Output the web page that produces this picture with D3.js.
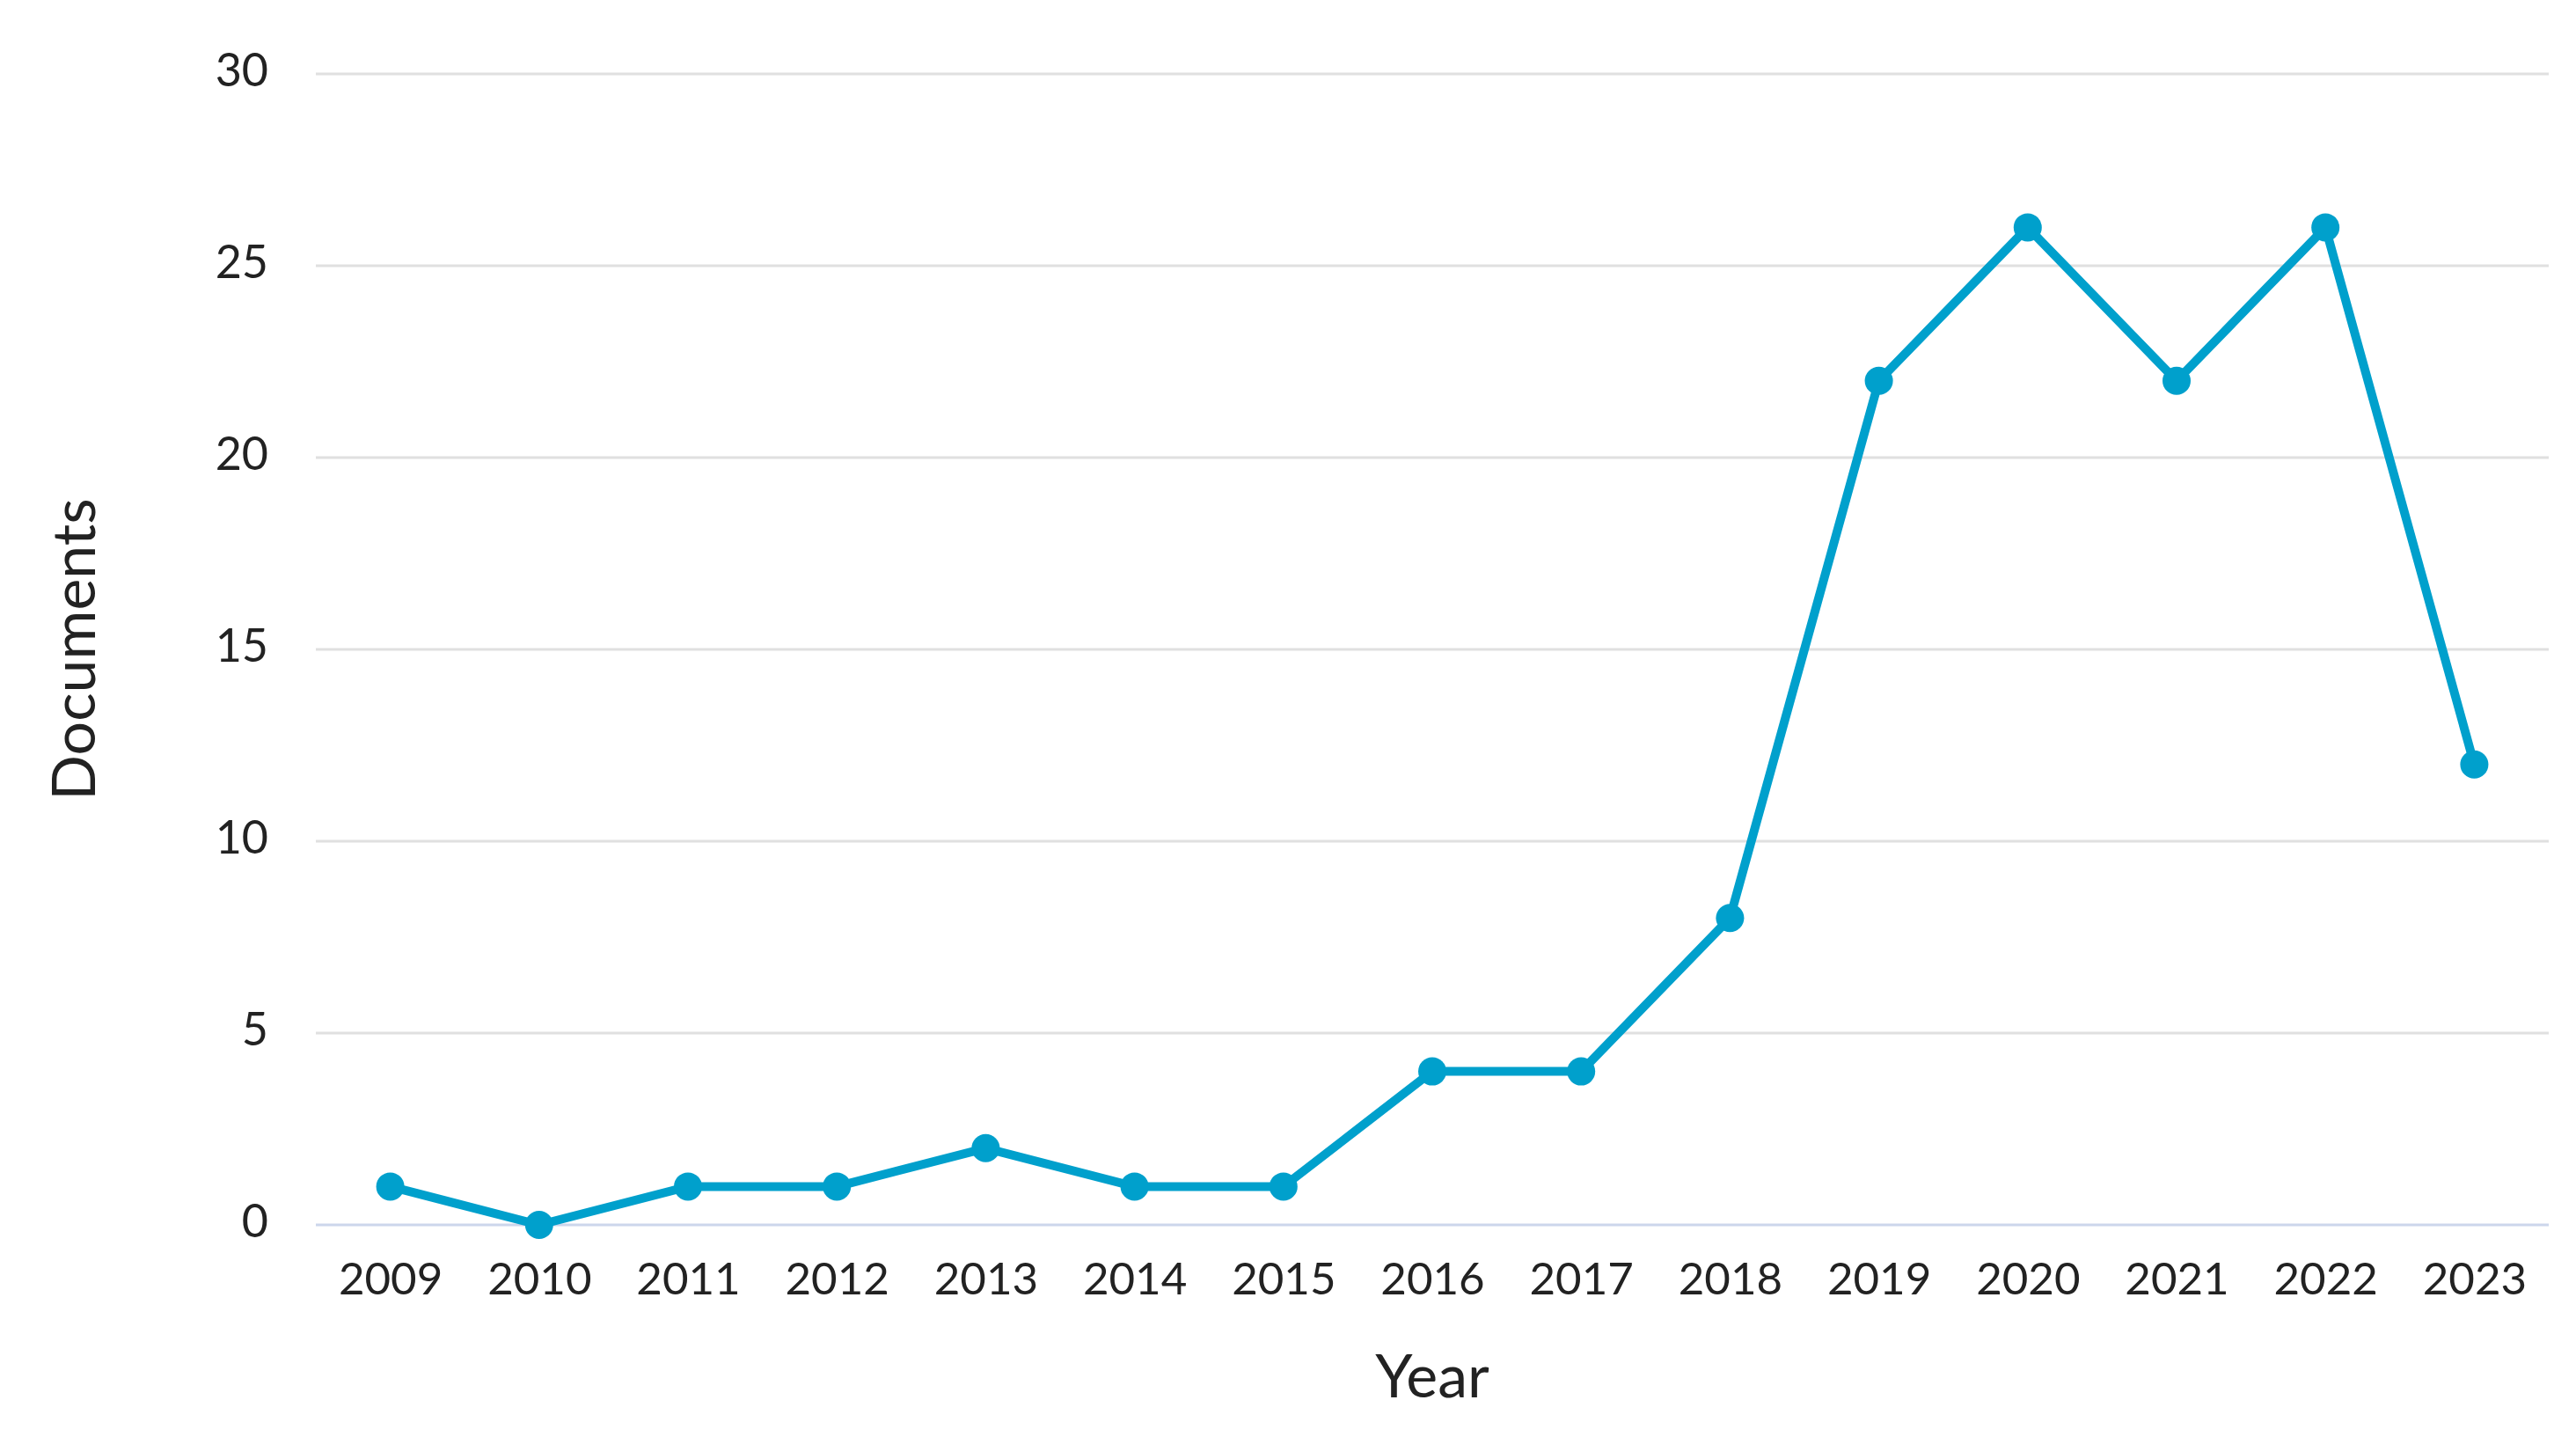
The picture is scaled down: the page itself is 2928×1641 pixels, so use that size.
<!DOCTYPE html>
<html>
<head>
<meta charset="utf-8">
<script src="https://cdn.jsdelivr.net/npm/d3@7"></script>
<style>
  html, body { margin: 0; padding: 0; background: #ffffff; }
  svg { display: block; }
</style>
</head>
<body>
<script>
const years = ["2009","2010","2011","2012","2013","2014","2015","2016","2017","2018","2019","2020","2021","2022","2023"];
const documents = [1, 0, 1, 1, 2, 1, 1, 4, 4, 8, 22, 26, 22, 26, 12];
const yTicks = [0, 5, 10, 15, 20, 25, 30];
const xTitle = "Year";
const yTitle = "Documents";

(function () {
const W = 2928, H = 1641;
const mLeft = 359, mRight = 2897, mTop = 84, mBottom = 1392;
const font = "Lato, 'Open Sans', sans-serif";

const svg = d3.select("body").append("svg").attr("width", W).attr("height", H);

const x = d3.scalePoint().domain(years).range([mLeft, mRight]).padding(0.5);
const y = d3.scaleLinear().domain([0, 30]).range([mBottom, mTop]);

// grid lines
svg.append("g").selectAll("line").data(yTicks).join("line")
  .attr("x1", mLeft).attr("x2", mRight)
  .attr("y1", d => y(d)).attr("y2", d => y(d))
  .attr("stroke", d => d === 0 ? "#ccd6eb" : "#e0e0e0")
  .attr("stroke-width", 3);

// y axis
const yAxis = svg.append("g").attr("transform", `translate(${mLeft},0)`)
  .call(d3.axisLeft(y).tickValues(yTicks).tickSize(0).tickPadding(54).tickFormat(d3.format("d")));
yAxis.select(".domain").remove();
yAxis.selectAll("text").attr("font-family", font).attr("font-size", 52).attr("fill", "#222").attr("dy", "0.25em");

// x axis
const xAxis = svg.append("g").attr("transform", `translate(0,${mBottom})`)
  .call(d3.axisBottom(x).tickSize(0).tickPadding(43));
xAxis.select(".domain").remove();
xAxis.selectAll("text").attr("font-family", font).attr("font-size", 51).attr("fill", "#222");

// line
const data = years.map((yr, i) => ({ yr, v: documents[i] }));
svg.append("path").datum(data)
  .attr("fill", "none").attr("stroke", "#00a0cc").attr("stroke-width", 10)
  .attr("stroke-linejoin", "round")
  .attr("d", d3.line().x(d => x(d.yr)).y(d => y(d.v)));

svg.append("g").selectAll("circle").data(data).join("circle")
  .attr("cx", d => x(d.yr)).attr("cy", d => y(d.v)).attr("r", 16)
  .attr("fill", "#00a0cc");

// titles
svg.append("text").attr("x", (mLeft + mRight) / 2).attr("y", 1588)
  .attr("text-anchor", "middle").attr("font-family", font).attr("font-size", 68)
  .attr("fill", "#222").text(xTitle);

svg.append("text").attr("transform", `translate(108,${(mTop + mBottom) / 2}) rotate(-90)`)
  .attr("text-anchor", "middle").attr("font-family", font).attr("font-size", 68)
  .attr("fill", "#222").text(yTitle);
})();
</script>
</body>
</html>
